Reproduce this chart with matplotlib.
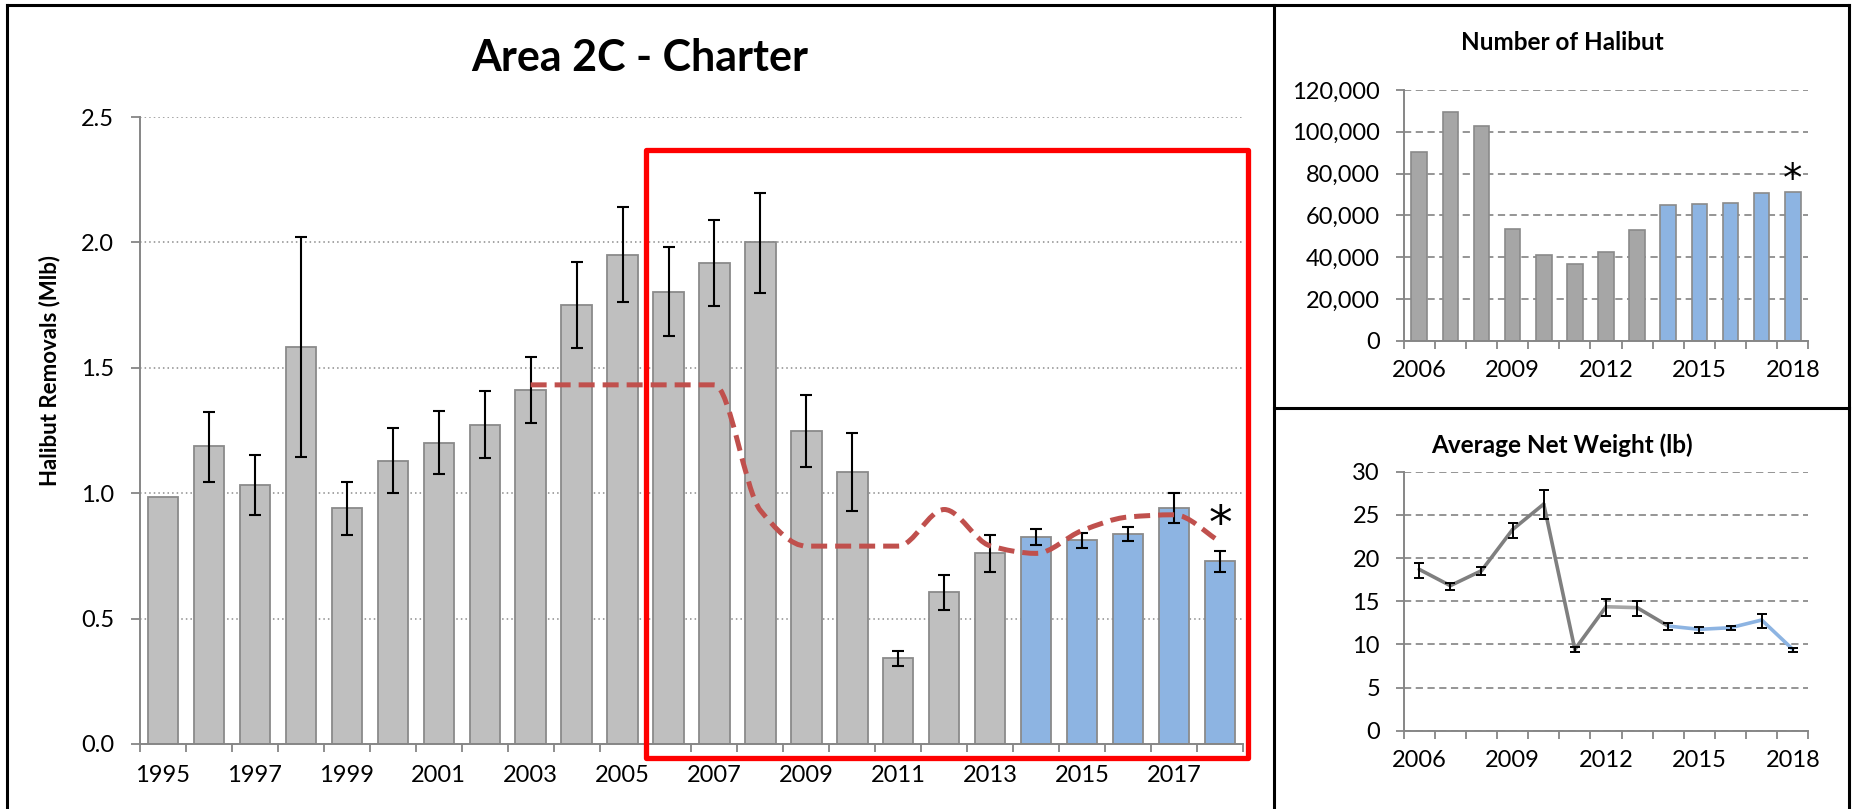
import numpy as np
import matplotlib
matplotlib.use("Agg")
import matplotlib.pyplot as plt
from matplotlib.path import Path
from matplotlib.patches import PathPatch, Rectangle
from matplotlib.lines import Line2D
from matplotlib.ticker import FixedLocator, FuncFormatter

plt.rcParams['font.family'] = ['Lato', 'DejaVu Sans']

# ---------------- data ----------------
years_main = list(range(1995, 2019))
removals = [0.986, 1.187, 1.034, 1.584, 0.940, 1.130, 1.201, 1.272, 1.411, 1.749,
            1.950, 1.803, 1.918, 2.000, 1.250, 1.086, 0.344, 0.606, 0.762, 0.826,
            0.814, 0.839, 0.942, 0.728]
removals_lo = [np.nan, 1.046, 0.913, 1.144, 0.833, 1.000, 1.075, 1.139, 1.278, 1.577,
               1.762, 1.625, 1.747, 1.800, 1.106, 0.931, 0.312, 0.536, 0.686, 0.793,
               0.782, 0.810, 0.880, 0.687]
removals_hi = [np.nan, 1.322, 1.153, 2.023, 1.044, 1.258, 1.327, 1.409, 1.544, 1.920,
               2.141, 1.980, 2.089, 2.198, 1.391, 1.241, 0.372, 0.673, 0.835, 0.858,
               0.840, 0.867, 1.001, 0.769]
alloc_years = list(range(2003, 2019))
alloc_vals = [1.432, 1.432, 1.432, 1.432, 1.432, 0.931, 0.789, 0.789, 0.789, 0.935,
              0.790, 0.760, 0.851, 0.905, 0.914, 0.807]

years_small = list(range(2006, 2019))
num_halibut = [90300, 109600, 102800, 53600, 41200, 36700, 42300, 52800, 64800,
               65600, 66100, 70700, 71000]
avg_weight = [18.69, 16.80, 18.53, 23.30, 26.25, 9.42, 14.36, 14.25, 12.12, 11.74,
              11.93, 12.82, 9.42]
avg_weight_lo = [17.64, 16.25, 18.00, 22.28, 24.52, 9.15, 13.32, 13.28, 11.66, 11.31,
                 11.62, 11.89, 9.07]
avg_weight_hi = [19.46, 17.14, 18.92, 24.05, 27.88, 9.65, 15.29, 14.98, 12.47, 12.00,
                 12.16, 13.55, 9.58]
blue_from = 2014

main_title = "Area 2C - Charter"
main_ylabel = "Halibut Removals (Mlb)"
title_num = "Number of Halibut"
title_wt = "Average Net Weight (lb)"

# ---------------- style ----------------
GREY_MAIN = '#BFBFBF'
GREY_SMALL = '#A6A6A6'
BLUE = '#8DB4E2'
EDGE = '#8A8A8A'
AXC = '#868686'
REDLINE = '#C0504D'
TICKFS = 17

W, H = 1855, 809
fig = plt.figure(figsize=(W / 100, H / 100), dpi=100)


def fbox(l, t, r, b):
    return [l / W, 1 - b / H, (r - l) / W, (b - t) / H]


def style_axes(ax, grid_ls, grid_lw):
    for s in ['top', 'right']:
        ax.spines[s].set_visible(False)
    for s in ['left', 'bottom']:
        ax.spines[s].set_color(AXC)
        ax.spines[s].set_linewidth(1.4)
    ax.yaxis.grid(True, linestyle=grid_ls, color='#8C8C8C', lw=grid_lw)
    ax.set_axisbelow(True)


# ---------------- main chart ----------------
ax = fig.add_axes(fbox(140, 117, 1243, 744))
n = len(years_main)
x = np.arange(n)
cols = [BLUE if y >= blue_from else GREY_MAIN for y in years_main]
ax.bar(x, removals, width=0.66, color=cols, edgecolor=EDGE, linewidth=1.3, zorder=2)
vals = np.array(removals)
lo = np.array(removals_lo)
hi = np.array(removals_hi)
ok = ~np.isnan(lo)
ax.errorbar(x[ok], vals[ok], yerr=[vals[ok] - lo[ok], hi[ok] - vals[ok]], fmt='none',
            ecolor='black', elinewidth=1.5, capsize=4.5, capthick=1.5, zorder=3)

# smoothed (monotone cubic) allocation line
ax_x = np.array([years_main.index(y) for y in alloc_years], dtype=float)
ay = np.array(alloc_vals)
d = np.diff(ay) / np.diff(ax_x)
m = np.zeros_like(ay)
m[0], m[-1] = d[0], d[-1]
for k in range(1, len(ay) - 1):
    if d[k - 1] * d[k] > 0:
        m[k] = 2.0 / (1.0 / d[k - 1] + 1.0 / d[k])
verts = [(ax_x[0], ay[0])]
codes = [Path.MOVETO]
for k in range(len(ay) - 1):
    h = ax_x[k + 1] - ax_x[k]
    verts += [(ax_x[k] + h / 3, ay[k] + m[k] * h / 3),
              (ax_x[k + 1] - h / 3, ay[k + 1] - m[k + 1] * h / 3),
              (ax_x[k + 1], ay[k + 1])]
    codes += [Path.CURVE4] * 3
patch = PathPatch(Path(verts, codes), facecolor='none', edgecolor=REDLINE, lw=3.6,
                  linestyle=(0, (3.2, 1.6)), zorder=4, capstyle='butt')
ax.add_patch(patch)

ax.set_xlim(-0.5, n - 0.5)
ax.set_ylim(0, 2.5)
ax.set_yticks(np.arange(0, 2.51, 0.5))
ax.yaxis.set_major_formatter(FuncFormatter(lambda v, p: f"{v:.1f}"))
ax.set_xticks(x[::2])
ax.set_xticklabels([str(y) for y in years_main[::2]])
ax.xaxis.set_minor_locator(FixedLocator(np.arange(-0.5, n, 1.0)))
ax.tick_params(axis='x', which='major', length=0, pad=15, labelsize=TICKFS)
ax.tick_params(axis='x', which='minor', length=6, width=1.3, color=AXC)
ax.tick_params(axis='y', length=6.5, width=1.3, color=AXC, pad=12, labelsize=TICKFS)
style_axes(ax, (0, (1, 2)), 1.1)
ax.set_ylabel(main_ylabel, fontsize=16, fontweight='bold', va='center')
ax.yaxis.set_label_coords(-0.0816, 0.595)
ax.text(n - 1, 0.87, '*', ha='center', va='center', fontsize=34, zorder=5,
        family='DejaVu Sans')
# highlight box
ax.add_patch(Rectangle((10.52, -0.054), 13.09, 2.422, fill=False, edgecolor='#FF0000',
                       lw=3.8, clip_on=False, zorder=6, joinstyle='round'))
fig.text(640 / W, 1 - 58 / H, main_title, ha='center', va='center', fontsize=31,
         fontweight='bold')

# ---------------- number of halibut ----------------
ns = len(years_small)
xs = np.arange(ns)
cols_s = [BLUE if y >= blue_from else GREY_SMALL for y in years_small]
ax2 = fig.add_axes(fbox(1403.6, 90, 1808.4, 340.7))
ax2.bar(xs, num_halibut, width=0.5, color=cols_s, edgecolor=EDGE, linewidth=1.2, zorder=2)
ax2.set_xlim(-0.5, ns - 0.5)
ax2.set_ylim(0, 120000)
ax2.set_yticks(np.arange(0, 120001, 20000))
ax2.yaxis.set_major_formatter(FuncFormatter(lambda v, p: f"{v:,.0f}"))
ax2.set_xticks(xs[::3])
ax2.set_xticklabels([str(y) for y in years_small[::3]])
ax2.xaxis.set_minor_locator(FixedLocator(np.arange(-0.5, ns, 1.0)))
ax2.tick_params(axis='x', which='major', length=0, pad=14, labelsize=TICKFS)
ax2.tick_params(axis='x', which='minor', length=6, width=1.3, color=AXC)
ax2.tick_params(axis='y', length=6, width=1.3, color=AXC, pad=11, labelsize=TICKFS)
style_axes(ax2, (0, (4, 2.5)), 1.3)
ax2.text(ns - 1, 76900, '*', ha='center', va='center', fontsize=28, family='DejaVu Sans')
fig.text(1562 / W, 1 - 43 / H, title_num, ha='center', va='center', fontsize=17.5,
         fontweight='bold')

# ---------------- average net weight ----------------
ax3 = fig.add_axes(fbox(1403.6, 471.7, 1808.4, 730.7))
wv = np.array(avg_weight)
wl = np.array(avg_weight_lo)
wh = np.array(avg_weight_hi)
for k in range(ns - 1):
    if years_small[k] >= blue_from:
        c = BLUE
    elif years_small[k] == 2012:
        c = '#A6A6A6'
    else:
        c = '#7F7F7F'
    ax3.plot(xs[k:k + 2], wv[k:k + 2], color=c, lw=2.6, solid_capstyle='round', zorder=3)
ax3.errorbar(xs, wv, yerr=[wv - wl, wh - wv], fmt='none', ecolor='black',
             elinewidth=1.4, capsize=3.8, capthick=1.4, zorder=4)
ax3.set_xlim(-0.5, ns - 0.5)
ax3.set_ylim(0, 30)
ax3.set_yticks(np.arange(0, 31, 5))
ax3.set_xticks(xs[::3])
ax3.set_xticklabels([str(y) for y in years_small[::3]])
ax3.xaxis.set_minor_locator(FixedLocator(np.arange(-0.5, ns, 1.0)))
ax3.tick_params(axis='x', which='major', length=0, pad=14, labelsize=TICKFS)
ax3.tick_params(axis='x', which='minor', length=6, width=1.3, color=AXC)
ax3.tick_params(axis='y', length=6, width=1.3, color=AXC, pad=11, labelsize=TICKFS)
style_axes(ax3, (0, (4, 2.5)), 1.3)
fig.text(1562 / W, 1 - 445 / H, title_wt, ha='center', va='center', fontsize=17.5,
         fontweight='bold')

# ---------------- panel frames ----------------
def fline(x0, y0, x1, y1):
    fig.add_artist(Line2D([x0 / W, x1 / W], [1 - y0 / H, 1 - y1 / H], color='black',
                          lw=2.2, transform=fig.transFigure, solid_capstyle='projecting'))

fline(7, 4.5, 1849, 4.5)
fline(7, 4.5, 7, 809)
fline(1274, 4.5, 1274, 809)
fline(1849, 4.5, 1849, 809)
fline(1274, 408, 1849, 408)

fig.savefig('out.png', dpi=100)
